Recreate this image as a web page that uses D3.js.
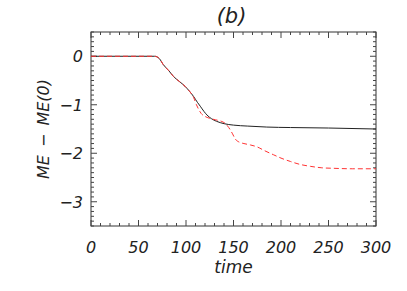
<!DOCTYPE html>
<html>
<head>
<meta charset="utf-8">
<script src="https://cdn.jsdelivr.net/npm/d3@7"></script>
<style>
  body { margin: 0; background: #fff; }
  text { font-family: "DejaVu Sans", sans-serif; font-style: italic; fill: #222; }
</style>
</head>
<body>
<svg id="plot" width="407" height="291"></svg>
<script>
// values
const X_TICKS = [0, 50, 100, 150, 200, 250, 300];
const Y_TICKS = [0, -1, -2, -3];

const SOLID_T = [0, 67, 72, 76, 82, 87, 93, 99, 104, 108, 112, 115, 119, 122, 127, 132, 140, 150, 165, 185, 210, 250, 300];
const SOLID_V = [0, 0, -0.05, -0.17, -0.3, -0.42, -0.52, -0.62, -0.73, -0.83, -0.95, -1.03, -1.14, -1.21, -1.29, -1.34, -1.39, -1.42, -1.44, -1.46, -1.47, -1.48, -1.50];

const DASH_T = [0, 67, 72, 76, 82, 87, 93, 99, 104, 108, 111, 116, 121, 125, 131, 137, 141, 145, 149, 152, 156, 161, 168, 175, 183, 192, 200, 210, 220, 231, 243, 255, 275, 300];
const DASH_V = [0, 0, -0.05, -0.17, -0.3, -0.42, -0.52, -0.62, -0.73, -0.85, -1.0, -1.18, -1.25, -1.28, -1.31, -1.34, -1.38, -1.47, -1.6, -1.71, -1.77, -1.8, -1.83, -1.87, -1.95, -2.03, -2.1, -2.17, -2.23, -2.27, -2.3, -2.31, -2.32, -2.32];

const margin = { left: 91, right: 31, top: 32, bottom: 65 };
const W = 407, H = 291;
const svg = d3.select('#plot');

const x = d3.scaleLinear().domain([0, 300]).range([margin.left, W - margin.right]);
const y = d3.scaleLinear().domain([-3.5, 0.5]).range([H - margin.bottom, margin.top]);

const x0 = x.range()[0], x1 = x.range()[1];
const y0 = y.range()[0], y1 = y.range()[1];

// frame
svg.append('rect')
    .attr('x', x0).attr('y', y1)
    .attr('width', x1 - x0).attr('height', y0 - y1)
    .style('fill', 'none').style('stroke', '#333').style('stroke-width', 1);

// ticks on all four sides, pointing inwards
const ticks = svg.append('g').style('stroke', '#444').style('stroke-width', 1);
d3.range(0, 301, 10).forEach(t => {
    const len = t % 50 === 0 ? 6 : 3;
    ticks.append('line').attr('x1', x(t)).attr('x2', x(t)).attr('y1', y0).attr('y2', y0 - len);
    ticks.append('line').attr('x1', x(t)).attr('x2', x(t)).attr('y1', y1).attr('y2', y1 + len);
});
d3.range(-35, 6, 1).forEach(k => {
    const v = k / 10;
    const len = k % 10 === 0 ? 6 : 3;
    ticks.append('line').attr('y1', y(v)).attr('y2', y(v)).attr('x1', x0).attr('x2', x0 + len);
    ticks.append('line').attr('y1', y(v)).attr('y2', y(v)).attr('x1', x1).attr('x2', x1 - len);
});

// tick labels
svg.selectAll('.xl').data(X_TICKS).enter().append('text')
    .attr('x', d => x(d)).attr('y', y0 + 27)
    .attr('text-anchor', 'middle')
    .style('font-size', '16px')
    .text(d => d);

svg.selectAll('.yl').data(Y_TICKS).enter().append('text')
    .attr('x', x0 - 8).attr('y', d => y(d) + 6)
    .attr('text-anchor', 'end')
    .style('font-size', '16px')
    .text(d => d < 0 ? '\u2212' + (-d) : d);

// titles
svg.append('text').attr('x', (x0 + x1) / 2 - 2).attr('y', 23)
    .attr('text-anchor', 'middle').style('font-size', '21px').text('(b)');
svg.append('text').attr('x', (x0 + x1) / 2).attr('y', 273)
    .attr('text-anchor', 'middle').style('font-size', '17px').text('time');
svg.append('text')
    .attr('transform', `translate(49, ${(y0 + y1) / 2}) rotate(-90)`)
    .attr('text-anchor', 'middle').style('font-size', '16px')
    .style('word-spacing', '3px')
    .text('ME \u2212 ME(0)');

// curves
const line = d3.line().x(d => x(d[0])).y(d => y(d[1])).curve(d3.curveMonotoneX);

svg.append('path')
    .datum(SOLID_T.map((t, i) => [t, SOLID_V[i]]))
    .attr('d', line)
    .style('fill', 'none').style('stroke', '#222').style('stroke-width', 1);

svg.append('path')
    .datum(DASH_T.map((t, i) => [t, DASH_V[i]]))
    .attr('d', line)
    .style('fill', 'none').style('stroke', '#ff3333').style('stroke-width', 1)
    .style('stroke-dasharray', '5,3');
</script>
</body>
</html>
